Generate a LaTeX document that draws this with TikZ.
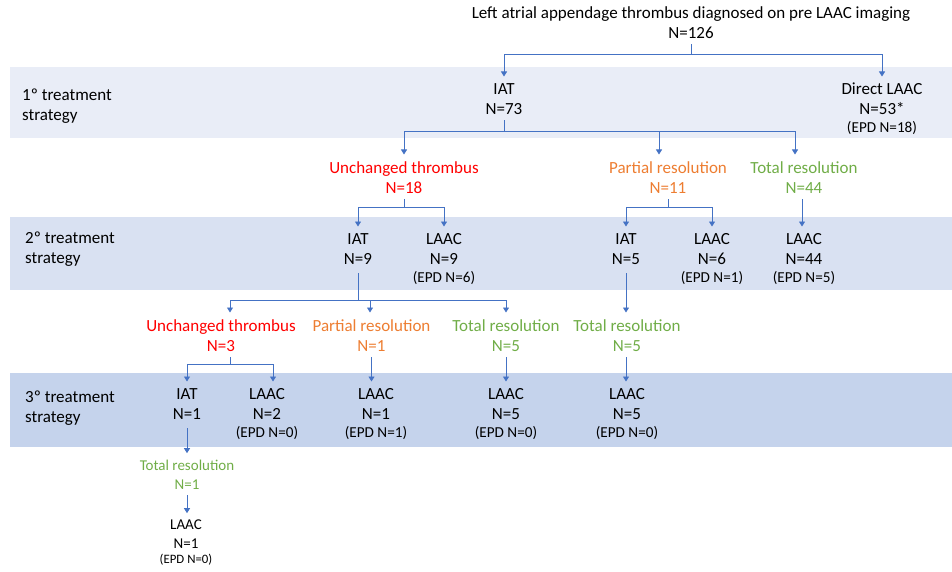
\documentclass[tikz,border=0pt]{standalone}
\usepackage{fontspec}
\setmainfont{Carlito}
\usetikzlibrary{arrows.meta}
\definecolor{arrowblue}{HTML}{4472C4}
\definecolor{bandA}{HTML}{E9EDF7}
\definecolor{bandB}{HTML}{D9E1F2}
\definecolor{bandC}{HTML}{C5D3EC}
\definecolor{cRed}{HTML}{FF0000}
\definecolor{cOrange}{HTML}{ED7D31}
\definecolor{cGreen}{HTML}{70AD47}
\newcommand\fbig{\fontsize{17}{20}\selectfont}
\newcommand\fsm{\fontsize{15.2}{17}\selectfont}
\newcommand\fmid{\fontsize{15}{19}\selectfont}
\newcommand\ftiny{\fontsize{12.8}{14}\selectfont}
\begin{document}
\begin{tikzpicture}[x=1pt,y=-1pt,
 lbl/.style={anchor=north, align=center, inner sep=0pt, font=\fbig, execute at begin node=\strut, execute at end node=\strut},
 rowlbl/.style={anchor=north west, align=left, inner sep=0pt, font=\fbig, execute at begin node=\strut},
 arr/.style={draw=arrowblue, line width=0.9pt, -{Triangle[width=6pt,length=5pt]}, shorten >=6.5pt}]
\useasboundingbox (0,0) rectangle (952,572);
\fill[bandA] (10,66.7) rectangle (952,138.3);
\fill[bandB] (10,216.7) rectangle (952,290);
\fill[bandC] (10,373.3) rectangle (952,447.3);

\node[rowlbl] (r1) at (22,88.5) {1º treatment\\strategy};
\node[rowlbl] (r2) at (25,232) {2º treatment\\strategy};
\node[rowlbl] (r3) at (25,390.5) {3º treatment\\strategy};

\node[lbl] (title) at (691,6) {Left atrial appendage thrombus diagnosed on pre LAAC imaging\\N=126};
\node[lbl] (iat1) at (504,83) {IAT\\N=73};
\node[lbl] (dl) at (882,83) {Direct LAAC\\N=53*\\[-2pt]{\fsm (EPD N=18)}};
\node[lbl,text=cRed] (unch1) at (404,161) {Unchanged thrombus\\N=18};
\node[lbl,text=cOrange] (part1) at (668,161) {Partial resolution\\N=11};
\node[lbl,text=cGreen] (tot1) at (804,161) {Total resolution\\N=44};
\node[lbl] (iat2a) at (358,233) {IAT\\N=9};
\node[lbl] (laac2a) at (444,233) {LAAC\\N=9\\[-2pt]{\fsm (EPD N=6)}};
\node[lbl] (iat2b) at (626,233) {IAT\\N=5};
\node[lbl] (laac2b) at (712,233) {LAAC\\N=6\\[-2pt]{\fsm (EPD N=1)}};
\node[lbl] (laac2c) at (804,233) {LAAC\\N=44\\[-2pt]{\fsm (EPD N=5)}};
\node[lbl,text=cRed] (unch2) at (221,319) {Unchanged thrombus\\N=3};
\node[lbl,text=cOrange] (part2) at (371.5,319) {Partial resolution\\N=1};
\node[lbl,text=cGreen] (tot2) at (506,319) {Total resolution\\N=5};
\node[lbl,text=cGreen] (tot2b) at (627,319) {Total resolution\\N=5};
\node[lbl] (iat3a) at (187,388) {IAT\\N=1};
\node[lbl] (laac3a) at (267,388) {LAAC\\N=2\\[-2pt]{\fsm (EPD N=0)}};
\node[lbl] (laac3b) at (376,388) {LAAC\\N=1\\[-2pt]{\fsm (EPD N=1)}};
\node[lbl] (laac3c) at (506,388) {LAAC\\N=5\\[-2pt]{\fsm (EPD N=0)}};
\node[lbl] (laac3d) at (627,388) {LAAC\\N=5\\[-2pt]{\fsm (EPD N=0)}};
\node[lbl,font=\fmid,text=cGreen] (tot3) at (187,459.7) {Total resolution\\N=1};
\node[lbl,font=\fmid] (laac4) at (186,519.7) {LAAC\\N=1\\[-4pt]{\ftiny (EPD N=0)}};

\draw[arr] (title.south) -- ++(0,10) -| (iat1.north);
\draw[arr] (title.south) -- ++(0,10) -| (dl.north);
\draw[arr] (iat1.south) -- ++(0,11) -| (unch1.north);
\draw[arr] (iat1.south) -- ++(0,11) -| ([xshift=-9pt]part1.north);
\draw[arr] (iat1.south) -- ++(0,11) -| ([xshift=-9pt]tot1.north);
\draw[arr] (unch1.south) -- ++(0,8) -| (iat2a.north);
\draw[arr] (unch1.south) -- ++(0,8) -| (laac2a.north);
\draw[arr] (part1.south) -- ++(0,8) -| (iat2b.north);
\draw[arr] (part1.south) -- ++(0,8) -| (laac2b.north);
\draw[arr] ([xshift=-2pt]tot1.south) -- ([xshift=-2pt]laac2c.north);
\draw[arr,shorten <=3pt] (iat2a.south) -- ++(0,30) -| ([xshift=9pt]unch2.north);
\draw[arr,shorten <=3pt] (iat2a.south) -- ++(0,30) -| ([xshift=-1.5pt]part2.north);
\draw[arr,shorten <=3pt] (iat2a.south) -- ++(0,30) -| (tot2.north);
\draw[arr,shorten <=3pt] (iat2b.south) -- (iat2b.south |- tot2b.north);
\draw[arr] ([xshift=9pt]unch2.south) -- ++(0,7) -| (iat3a.north);
\draw[arr] ([xshift=9pt]unch2.south) -- ++(0,7) -| ([xshift=6pt]laac3a.north);
\draw[arr] (part2.south) -- (part2.south |- laac3b.north);
\draw[arr] (tot2.south) -- (laac3c.north);
\draw[arr] ([xshift=-1pt]tot2b.south) -- ([xshift=-1pt]laac3d.north);
\draw[arr,shorten <=3pt] (iat3a.south) -- (tot3.north);
\draw[arr] (tot3.south) -- (tot3.south |- laac4.north);
\end{tikzpicture}
\end{document}
